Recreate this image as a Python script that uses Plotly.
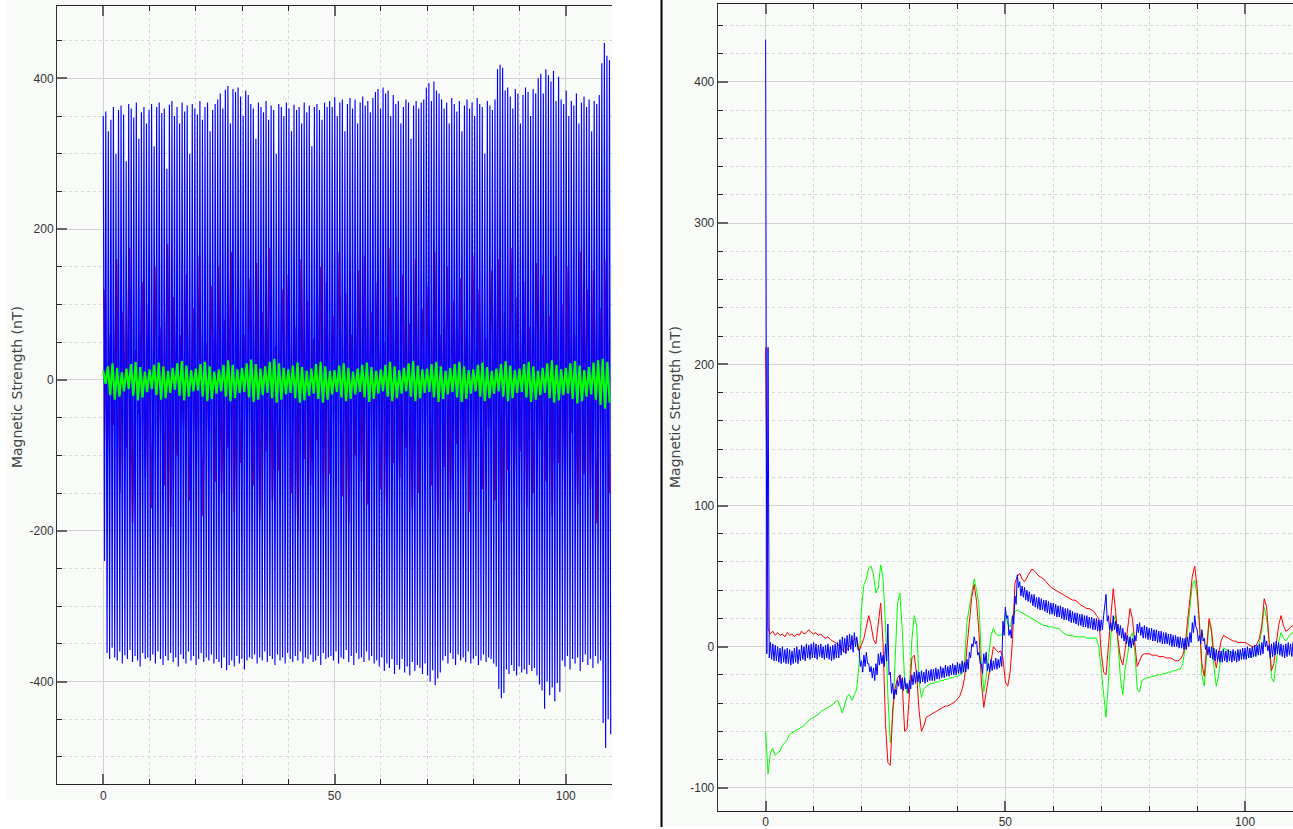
import numpy as np
import plotly.graph_objects as go

# ---------------- LEFT PANEL DATA ----------------
# blue: alternating peak / trough values of the fast oscillation
L_BLUE_TOP = [
    350, 356, 330, 345, 362, 300, 358, 364, 352, 290, 366, 360, 348, 368, 320, 355, 362, 340,
    358, 366, 310, 362, 368, 354, 360, 280, 365, 370, 350, 362, 340, 368, 356, 364, 300, 366,
    360, 352, 370, 345, 362, 368, 330, 358, 366,
    372, 380, 360, 385, 390, 340, 386, 382, 388, 376, 350, 384, 378,
    366, 360, 320, 368, 362, 355, 370, 345, 364, 358, 300, 366, 362, 350, 368, 360, 330, 365,
    358, 362, 340, 368, 355, 364, 310, 362, 366, 358, 345, 368, 362,
    370, 362, 375, 350, 368, 372, 330, 366, 374, 360, 372, 340, 368, 376, 364, 370, 355, 374,
    382, 386, 360, 388, 380, 384, 350, 378,
    366, 370, 340, 362, 372, 368, 320, 364, 370, 360, 368, 372,
    388, 394, 370, 396, 384, 380,
    372, 360, 368, 340, 374, 366, 356, 370, 330, 364, 372, 360, 368, 350, 374, 366, 362, 300,
    370, 364, 358, 372,
    412, 418, 414,
    384, 388, 376, 360, 386, 380, 340, 378, 388, 382, 350, 386, 380,
    400, 406, 380, 412, 404, 396, 410, 370, 402,
    372, 366, 384, 350, 370, 364, 380, 340, 368, 376, 362, 372, 330, 370, 366, 378,
    420, 447, 430, 424,
]
L_BLUE_BOT = [
    -240, -362, -370, -355, -368, -372, -360, -376, -365, -370, -358, -374, -366, -372, -380,
    -362, -370, -368,
    -372, -364, -376, -360, -370, -378, -366, -372, -362, -374, -368, -380, -364, -370, -376,
    -360, -372, -366, -378, -370, -362, -374, -368, -372, -364, -376, -370,
    -374, -382, -368, -385, -378, -372, -380, -366, -376, -370, -384, -372, -368,
    -370, -364, -376, -368, -372, -360, -374, -366, -370, -378, -364, -372, -368, -376, -362,
    -370, -374, -366, -372, -360, -376, -368, -370, -364, -374, -372, -366, -378, -362, -370, -368,
    -366, -372, -360, -376, -368, -370, -358, -374, -366, -378, -362, -370, -368, -374, -360,
    -372, -366, -376,
    -372, -380, -368, -386, -376, -382, -370, -390,
    -378, -384, -370, -388, -380, -392, -374, -386, -378, -382, -390, -376,
    -392, -400, -385, -405, -396, -388,
    -372, -366, -376, -362, -370, -378, -364, -372, -368, -374, -360, -376, -370, -366, -378,
    -372, -364, -374, -368, -370, -376, -380,
    -410, -422, -415,
    -384, -390, -378, -386, -392, -380, -388, -384, -390, -378, -386, -382, -392,
    -404, -412, -436, -400, -418, -408, -426, -402, -414,
    -372, -380, -366, -384, -370, -376, -368, -386, -374, -364, -378, -370, -382, -366, -376, -372,
    -455, -488, -450, -470,
]
L_RED_TOP = [
    120, 60, 160, 90, 175, 40, 130, 100, 150, 70,
    180, 110, 60, 140, 95, 165, 50, 125, 150, 80,
    170, 100, 60, 135, 155, 90, 175, 45, 120, 140,
    70, 160, 105, 55, 150, 130, 85, 170, 115, 60,
    145, 165, 90, 130, 50, 175, 110, 140, 75, 160,
    95, 125, 170, 60, 150, 105, 135, 80, 165, 120,
    55, 145, 160, 90, 175, 110, 130, 70, 155, 140,
    85, 165, 100, 150, 60, 170, 120, 145, 95, 160,
]
L_RED_BOT = [
    -110, -60, -150, -90, -190, -45, -130, -170, -80, -140,
    -195, -100, -60, -160, -120, -180, -70, -135, -150, -90,
    -175, -110, -55, -140, -185, -95, -160, -120, -65, -150,
    -200, -105, -140, -80, -170, -125, -60, -155, -190, -100,
    -135, -165, -75, -145, -180, -110, -130, -90, -170, -150,
    -60, -140, -185, -115, -160, -85, -130, -175, -100, -145,
    -65, -160, -190, -120, -140, -95, -170, -150, -80, -135,
    -180, -110, -155, -70, -165, -125, -145, -190, -100, -150,
]
L_GREEN_TOP = [
    12, 18, 22, 16, 10, 15, 21, 24, 17, 11,
    14, 20, 23, 18, 12, 16, 22, 25, 19, 13,
    15, 21, 24, 18, 11, 14, 20, 26, 20, 14,
    16, 22, 27, 21, 15, 18, 24, 28, 22, 16,
    14, 19, 23, 17, 12, 15, 21, 24, 18, 12,
    13, 19, 22, 16, 11, 15, 20, 23, 17, 12,
    14, 20, 24, 18, 13, 16, 22, 25, 19, 14,
    15, 21, 24, 18, 12, 16, 21, 24, 18, 13,
    14, 20, 23, 17, 12, 15, 21, 25, 19, 13,
    15, 21, 24, 18, 12, 16, 22, 26, 20, 14,
    16, 22, 25, 19, 13, 17, 23, 26, 28, 24,
]
L_GREEN_BOT = [
    -5, -20, -26, -22, -15, -12, -21, -27, -23, -16,
    -12, -20, -26, -24, -17, -13, -21, -27, -22, -15,
    -14, -22, -28, -25, -18, -15, -22, -28, -24, -17,
    -16, -23, -29, -26, -20, -17, -24, -30, -26, -19,
    -17, -24, -30, -27, -21, -18, -25, -30, -26, -19,
    -16, -23, -28, -25, -19, -16, -23, -29, -25, -18,
    -15, -22, -28, -24, -18, -15, -22, -28, -24, -17,
    -16, -23, -29, -25, -19, -16, -23, -29, -25, -18,
    -15, -22, -28, -24, -18, -15, -22, -28, -24, -17,
    -16, -23, -29, -26, -20, -17, -24, -30, -27, -20,
    -18, -25, -31, -28, -22, -19, -26, -33, -38, -30,
]
L_BLUE_DT = 0.275     # time between successive blue samples
L_RED_DT = 0.6875
L_RED_T0 = 0.15
L_GREEN_DT = 0.5

# ---------------- RIGHT PANEL DATA ----------------
R_DT = 0.5
R_RED = [
    212, 13, 9, 11, 8, 10, 8, 9, 7, 10,
    8, 9, 7, 9, 8, 11, 9, 10, 12, 10,
    9, 10, 8, 9, 7, 6, 7, 5, 4, 3,
    2, 0, -2, -4, -2, 1, 3, 5, 6, -3,
    2, 6, 14, 22, 15, 5, 2, 18, 31, 2,
    -55, -82, -84, -45, -30, -22, -20, -27, -60, -58,
    -30, -8, -6, -20, -45, -60, -56, -50, -49, -48,
    -47, -46, -45, -44, -43, -42, -42, -41, -40, -39,
    -37, -35, -30, -22, 0, 18, 35, 44, 32, 10,
    -25, -43, -32, -20, -12, 0, -2, -4, -3, -8,
    -25, -28, -18, 5, 45, 50, 52, 48, 46, 49,
    52, 55, 54, 52, 50, 49, 48, 46, 44, 42,
    41, 40, 39, 38, 37, 36, 35, 34, 33, 33,
    32, 30, 29, 28, 27, 27, 26, 25, 22, 20,
    -4, -18, -20, 2, 25, 41, 25, 5, -8, -13,
    -2, 12, 27, 20, 5, -14, -10, -6, -5, -5,
    -5, -6, -6, -6, -7, -7, -7, -8, -8, -8,
    -9, -10, -10, -9, -6, 0, 18, 35, 50, 57,
    42, 15, -12, -21, -2, 20, 12, -6, -15, -5,
    4, 8, 7, 6, 5, 4, 4, 3, 3, 3,
    3, 2, 1, 0, 0, 2, 6, 15, 34, 28,
    5, -17, -12, 0, 15, 22, 15, 11, 12, 14, 15,
]
R_GREEN = [
    -60, -90, -75, -72, -77, -75, -74, -70, -68, -66,
    -62, -61, -60, -59, -58, -57, -56, -54, -52, -51,
    -50, -49, -48, -46, -45, -44, -43, -42, -41, -39,
    -38, -42, -47, -41, -35, -34, -38, -34, -30, -12,
    28, 44, 48, 56, 57, 51, 38, 42, 58, 48,
    15, -35, -68, -50, -10, 30, 38, 12, -25, -33,
    -28, 5, 22, 15, -25, -36, -30, -28, -27, -26,
    -26, -25, -25, -24, -24, -23, -23, -22, -22, -21,
    -21, -20, -19, -10, 18, 28, 38, 48, 40, 29,
    -8, -32, -22, -8, 8, 13, 9, 8, 8, 10,
    24, 16, 14, 22, 25, 26, 25, 24, 23, 22,
    21, 20, 19, 18, 17, 16, 15, 15, 14, 14,
    14, 13, 13, 12, 10, 9, 8, 8, 8, 7,
    7, 7, 7, 7, 6, 6, 6, 6, 6, 0,
    -18, -35, -50, -25, 8, 18, 22, 2, -22, -34,
    -15, -6, 6, 10, -3, -30, -32, -24, -23, -22,
    -22, -21, -21, -20, -20, -20, -19, -19, -18, -18,
    -17, -17, -16, -16, -12, -2, 10, 28, 44, 47,
    36, 18, -20, -28, -2, 18, 10, -14, -28, -20,
    -5, -1, -2, -3, -4, -4, -5, -5, -5, -6,
    -6, -6, -7, -7, -6, -3, 3, 12, 28, 20,
    5, -22, -25, -10, 3, 10, 6, 4, 7, 9, 10,
]
# blue: upper and lower values of its fast zig-zag (upper at t, lower at t + R_DT/2)
R_BLUE_HI = [
    430, 212, 3, 2, 1, 0, -1, 0, -2, -1,
    -2, -3, -1, 0, -2, 1, 0, 2, 1, 2,
    3, 2, 1, 2, 0, 1, 2, 0, 1, 2,
    3, 5, 7, 6, 8, 9, 8, 10, 7, -2,
    -10, -6, -4, -12, -14, -15, -12, -5, -4, -6,
    2, 16, -18, -26, -30, -24, -20, -22, -22, -26,
    -24, -20, -18, -17, -18, -17, -18, -16, -17, -16,
    -16, -15, -16, -14, -15, -13, -14, -13, -12, -13,
    -11, -12, -10, -11, -9, -4, 2, 7, 4, -4,
    -12, -5, -4, -12, -9, -10, -8, -9, -7, 18,
    28, 22, 12, 22, 36, 51, 46, 43, 42, 40,
    39, 37, 37, 35, 35, 34, 33, 33, 32, 31,
    31, 30, 29, 29, 28, 27, 27, 26, 25, 24,
    24, 23, 23, 22, 22, 21, 21, 20, 20, 19,
    19, 22, 37, 22, 17, 22, 18, 16, 15, 13,
    10, 8, 7, 6, 8, 16, 17, 14, 15, 14,
    13, 13, 12, 12, 11, 11, 10, 10, 9, 9,
    8, 8, 7, 7, 6, 6, 7, 10, 17, 22,
    12, 8, 12, 6, 1, 0, 0, -1, -2, -3,
    -3, -2, -3, -2, -3, -2, -3, -2, -2, -1,
    -1, 0, -1, 0, 1, 1, 2, 3, 8, 4,
    1, 2, 3, 4, 3, 2, 1, 2, 3, 2, 3,
]
R_BLUE_LO = [
    -5, -8, -9, -10, -10, -11, -12, -11, -12, -12,
    -13, -12, -11, -12, -10, -9, -10, -8, -9, -8,
    -8, -9, -7, -8, -9, -8, -9, -10, -9, -8,
    -8, -6, -4, -5, -3, -2, -4, 0, -2, -14,
    -18, -14, -12, -18, -22, -24, -20, -13, -12, -14,
    -10, -20, -33, -37, -34, -28, -30, -31, -30, -33,
    -30, -27, -26, -25, -26, -25, -26, -25, -24, -24,
    -24, -23, -23, -22, -22, -21, -21, -20, -20, -20,
    -19, -19, -18, -18, -16, -8, 0, 2, -6, -12,
    -19, -12, -17, -18, -17, -16, -16, -15, -14, 8,
    20, 8, 6, 16, 30, 42, 36, 35, 33, 32,
    31, 29, 28, 27, 26, 26, 25, 24, 23, 23,
    22, 21, 21, 20, 19, 19, 18, 17, 17, 16,
    15, 15, 14, 14, 13, 13, 12, 12, 11, 11,
    12, 28, 18, 12, 11, 12, 10, 8, 6, 4,
    2, 0, -1, 1, 4, 10, 8, 6, 6, 5,
    5, 4, 4, 3, 3, 2, 2, 2, 1, 0,
    0, 0, -1, -1, -2, -2, 0, 3, 10, 14,
    4, 2, 4, -2, -6, -8, -9, -10, -10, -11,
    -11, -10, -11, -10, -11, -10, -11, -10, -9, -9,
    -9, -8, -8, -7, -7, -6, -6, -5, 0, -3,
    -8, -7, -6, -5, -6, -7, -8, -7, -6, -7, -6,
]

X_TICKS = [0, 50, 100]
L_Y_TICKS = [-400, -200, 0, 200, 400]
R_Y_TICKS = [-100, 0, 100, 200, 300, 400]
Y_TITLE = "Magnetic Strength (nT)"


def interleave(a, b):
    out = []
    for p, q in zip(a, b):
        out += [p, q]
    return out


W, H = 1293, 829
BLUE, RED, GREEN = "#0000ff", "#ff0000", "#00ff00"

l_blue = interleave(L_BLUE_TOP, L_BLUE_BOT)
l_red = interleave(L_RED_TOP, L_RED_BOT)
l_green = interleave(L_GREEN_TOP, L_GREEN_BOT)
r_blue = interleave(R_BLUE_HI, R_BLUE_LO)

fig = go.Figure()
fig.add_trace(go.Scatter(x=L_RED_T0 + np.arange(len(l_red)) * L_RED_DT, y=l_red,
                         mode="lines", line=dict(color=RED, width=1.6),
                         xaxis="x", yaxis="y", hoverinfo="skip"))
fig.add_trace(go.Scatter(x=np.arange(len(l_blue)) * L_BLUE_DT, y=l_blue,
                         mode="lines", line=dict(color=BLUE, width=1.15),
                         xaxis="x", yaxis="y", hoverinfo="skip"))
fig.add_trace(go.Scatter(x=np.arange(len(l_green)) * L_GREEN_DT, y=l_green,
                         mode="lines", line=dict(color=GREEN, width=2.2),
                         xaxis="x", yaxis="y", hoverinfo="skip"))

fig.add_trace(go.Scatter(x=np.arange(len(R_GREEN)) * R_DT, y=R_GREEN,
                         mode="lines", line=dict(color=GREEN, width=1),
                         xaxis="x2", yaxis="y2", hoverinfo="skip"))
fig.add_trace(go.Scatter(x=np.arange(len(R_RED)) * R_DT, y=R_RED,
                         mode="lines", line=dict(color=RED, width=1),
                         xaxis="x2", yaxis="y2", hoverinfo="skip"))
fig.add_trace(go.Scatter(x=np.arange(len(r_blue)) * (R_DT / 2), y=r_blue,
                         mode="lines", line=dict(color=BLUE, width=1),
                         xaxis="x2", yaxis="y2", hoverinfo="skip"))

TICKFONT = dict(family="Liberation Sans, Arial, sans-serif", size=12, color="#333333")
GRID = "#d2d2d2"
MINORGRID = "#d6d6d6"


def lab(v):
    return str(v)


def xaxis(domain, anchor):
    return dict(domain=domain, anchor=anchor, range=[-10, 110], tickmode="array",
                tickvals=X_TICKS, ticktext=[lab(v) for v in X_TICKS],
                ticks="inside", ticklen=10, tickwidth=2, tickcolor="#666666",
                showline=True, linecolor="#222222", linewidth=1, mirror="ticks",
                showgrid=True, gridcolor=GRID, gridwidth=1.2, zeroline=False,
                tickfont=TICKFONT, fixedrange=True,
                minor=dict(tickmode="linear", tick0=0, dtick=10, ticks="inside", ticklen=5,
                           tickwidth=1, tickcolor="#222222", showgrid=True,
                           gridcolor=MINORGRID, gridwidth=1, griddash="3px,3px"))


def yaxis(domain, anchor, rng, vals, minor_dt):
    return dict(domain=domain, anchor=anchor, range=rng, tickmode="array",
                tickvals=vals, ticktext=[lab(v) for v in vals],
                ticks="inside", ticklen=10, tickwidth=2, tickcolor="#666666",
                showline=True, linecolor="#333333", linewidth=1, mirror=False,
                showgrid=True, gridcolor=GRID, gridwidth=1.2, zeroline=False,
                tickfont=TICKFONT, fixedrange=True,
                minor=dict(tickmode="linear", tick0=0, dtick=minor_dt, ticks="inside", ticklen=5,
                           tickwidth=1, tickcolor="#222222", showgrid=True,
                           gridcolor=MINORGRID, gridwidth=1, griddash="3px,3px"))


fig.update_layout(
    width=W, height=H,
    margin=dict(l=0, r=0, t=0, b=0),
    paper_bgcolor="#ffffff",
    plot_bgcolor="rgba(0,0,0,0)",
    showlegend=False,
    xaxis=xaxis([57 / W, 612 / W], "y"),
    yaxis=yaxis([43 / H, 823 / H], "x", [-536, 496], L_Y_TICKS, 50),
    xaxis2=xaxis([717.7 / W, 1.0], "y2"),
    yaxis2=yaxis([16 / H, 824.7 / H], "x2", [-116.4, 455], R_Y_TICKS, 20),
    shapes=[
        dict(type="rect", xref="paper", yref="paper", x0=6 / W, x1=612 / W,
             y0=(H - 802) / H, y1=1, fillcolor="#f9fbf9", line=dict(width=0), layer="below"),
        dict(type="rect", xref="paper", yref="paper", x0=662 / W, x1=1,
             y0=0, y1=1, fillcolor="#f9fbf9", line=dict(width=0), layer="below"),
        dict(type="line", xref="paper", yref="paper", x0=661.5 / W, x1=661.5 / W,
             y0=0, y1=1, line=dict(color="#000000", width=2), layer="above"),
    ],
    annotations=[
        dict(text=Y_TITLE, xref="paper", yref="paper", x=17 / W, y=(H - 388) / H,
             textangle=-90, showarrow=False, xanchor="center", yanchor="middle",
             font=dict(family="DejaVu Sans, sans-serif", size=14, color="#444444")),
        dict(text=Y_TITLE, xref="paper", yref="paper", x=675 / W, y=(H - 408) / H,
             textangle=-90, showarrow=False, xanchor="center", yanchor="middle",
             font=dict(family="DejaVu Sans, sans-serif", size=14, color="#444444")),
    ],
)

fig.write_html("out.html", config={"displayModeBar": False},
               post_script="document.body.style.margin='0px';"
                           "document.body.style.overflow='hidden';")
